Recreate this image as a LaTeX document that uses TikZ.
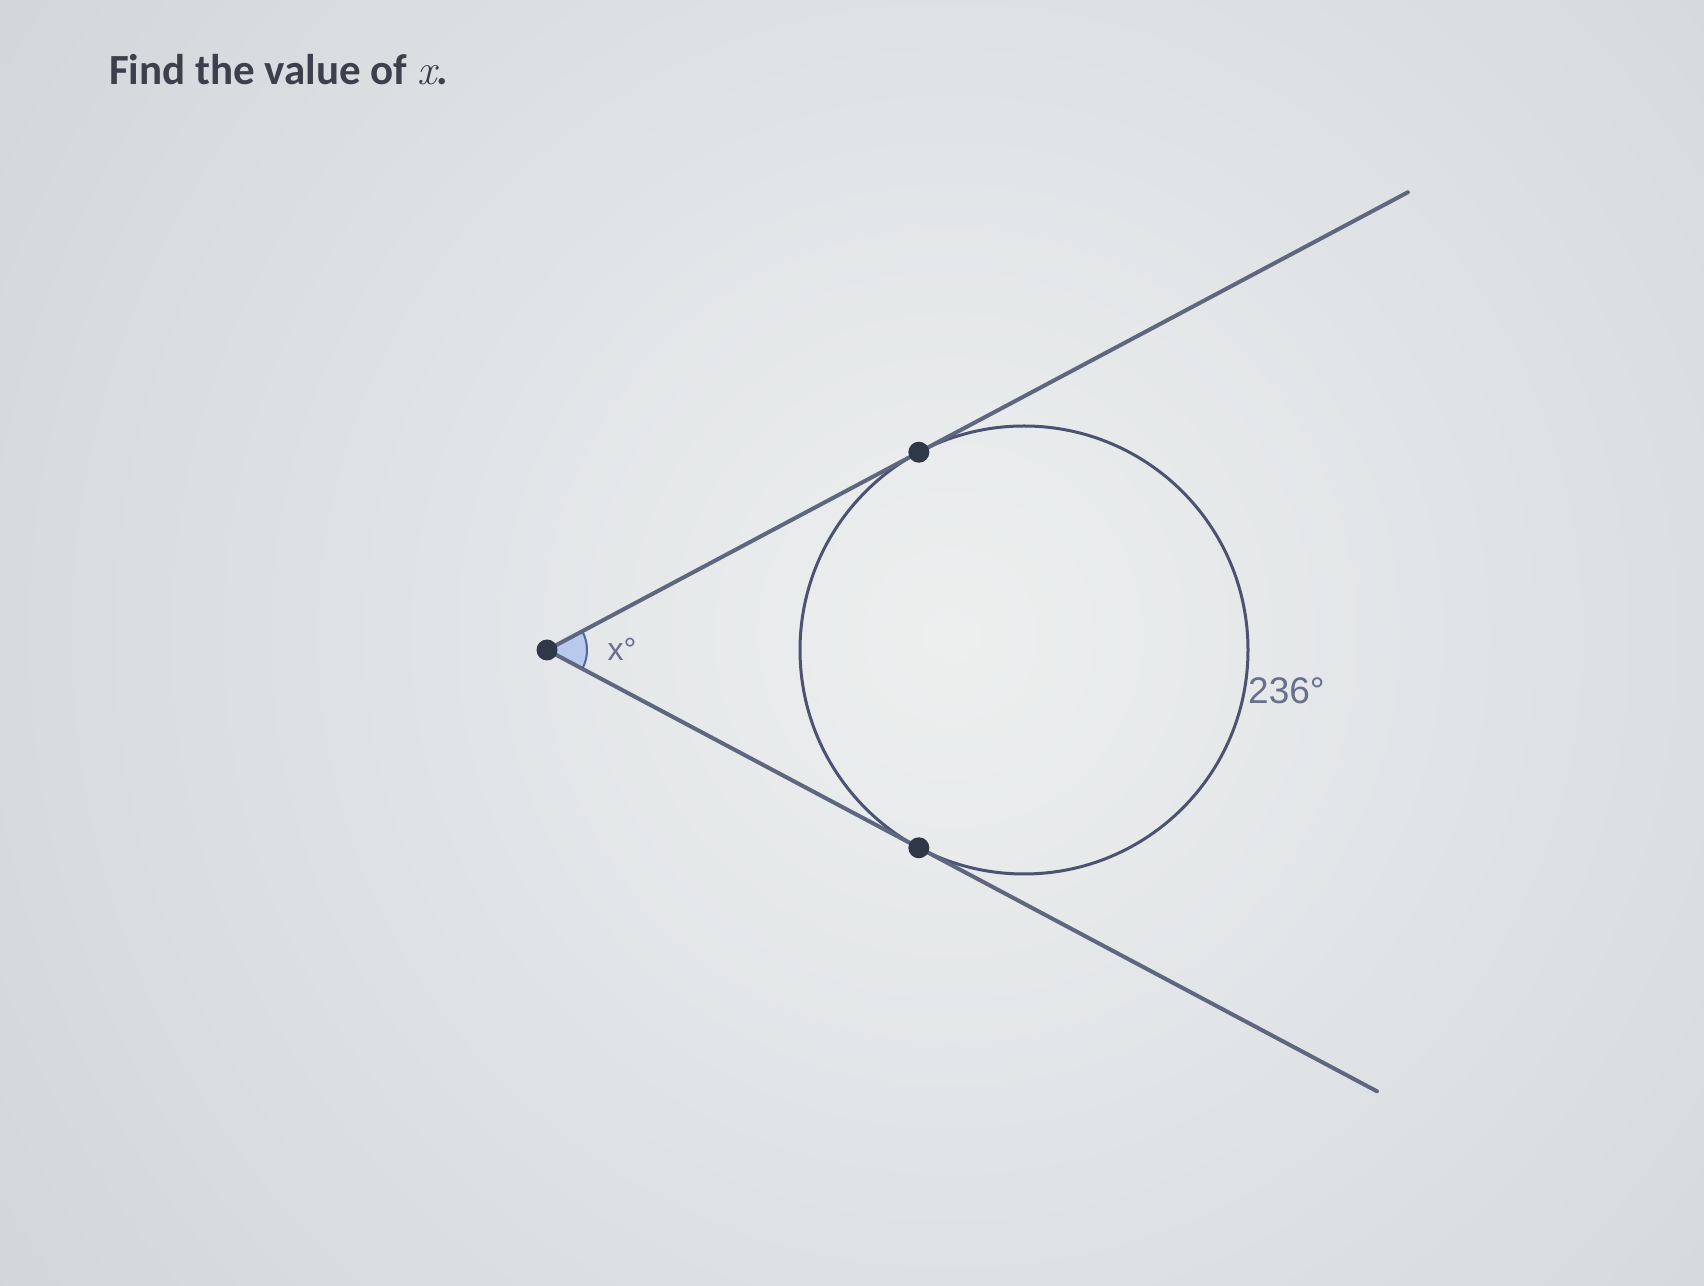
\documentclass[tikz,border=0pt]{standalone}
\usepackage{fontspec}
\setmainfont{Carlito}
\newfontfamily\labelfont{Liberation Sans}
\newfontfamily\lmfont{Latin Modern Roman}
\usetikzlibrary{calc}
\definecolor{bgmid}{HTML}{EDEFEF}
\definecolor{bgout}{HTML}{CACFD5}
\definecolor{linecol}{HTML}{5E6680}
\definecolor{circcol}{HTML}{4B5272}
\definecolor{dotcol}{HTML}{2F3849}
\definecolor{anglefill}{HTML}{B9C9EE}
\definecolor{angleedge}{HTML}{5565A0}
\definecolor{textcol}{HTML}{3B404C}
\definecolor{lblcol}{HTML}{676E8E}
\begin{document}
\begin{tikzpicture}[x=1pt,y=1pt,
  tline/.style={draw=linecol,line width=4pt,line cap=round},
  circ/.style={draw=circcol,line width=3pt},
  dot/.style={circle,fill=dotcol,inner sep=0pt,minimum size=21pt},
  lbl/.style={font=\labelfont\fontsize{37}{42}\selectfont,text=lblcol,inner sep=0pt},
  title/.style={font=\bfseries\fontsize{43}{52}\selectfont,text=textcol,inner sep=0pt}]
\useasboundingbox (0,0) rectangle (1704,1285);
\begin{scope}
\clip (0,0) rectangle (1704,1285);
\fill[bgout] (0,0) rectangle (1704,1285);
\shade[inner color=bgmid, outer color=bgout] (950,650) circle (1500);
\end{scope}
\coordinate (O) at (1024,635);
\coordinate (P) at (547,635);
\coordinate (A) at ($(O)+(118:224)$);
\coordinate (B) at ($(O)+(242:224)$);
\coordinate (E1) at ($(P)+(28:975)$);
\coordinate (E2) at ($(P)+(-28:940)$);
\fill[anglefill] (P) -- ($(P)+(28:40)$) arc (28:-28:40) -- cycle;
\draw[angleedge, line width=2pt] ($(P)+(28:40)$) arc (28:-28:40);
\draw[circ] (O) circle (224);
\draw[tline] (P) -- (E1);
\draw[tline] (P) -- (E2);
\node[dot] (vp) at (P) {};
\node[dot] (ta) at (A) {};
\node[dot] (tb) at (B) {};
\node[lbl, font=\labelfont\fontsize{32}{36}\selectfont] (xl) at (622,636) {x°};
\node[lbl, anchor=base west] (arcl) at (1248,581) {236°};
\node[title, anchor=base west] (t) at (109,1200) {Find the value of {\mdseries\lmfont\itshape x}.};
\end{tikzpicture}
\end{document}
